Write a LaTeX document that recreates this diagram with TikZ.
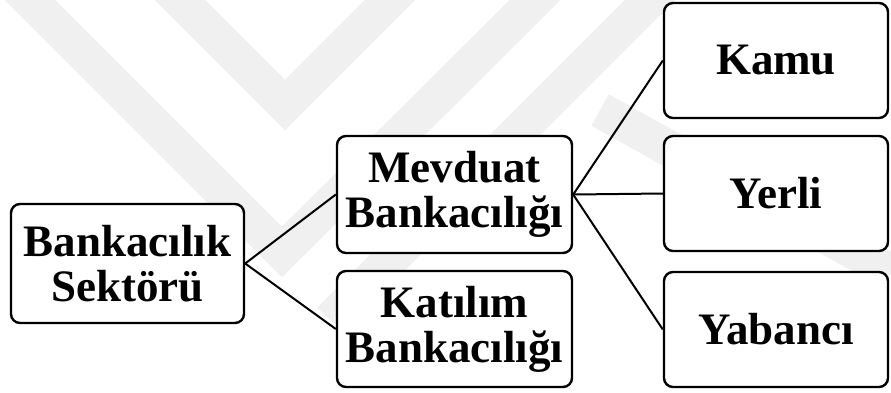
\documentclass[tikz,border=0pt]{standalone}
\usepackage{fontspec}
\setmainfont{Liberation Serif}
\begin{document}
\begin{tikzpicture}[x=1pt,y=-1pt,
  box/.style={draw=black,line width=2.4pt,rounded corners=9pt,fill=white,
    align=center,inner sep=0pt,font=\fontsize{45}{45}\selectfont\bfseries},
  link/.style={draw=black,line width=2pt},
  wm/.style={draw=black!6,line width=36pt,line cap=butt,line join=miter}]
\useasboundingbox (0,0) rectangle (891,392);
% faint watermark
\begin{scope}
\clip (0,0) rectangle (891,322);
\draw[wm] (0,-30) -- (282,252) -- (565,-30);
\draw[wm] (150,-30) -- (285,105) -- (420,-30);
\draw[wm] (680,-30) -- (330,320);
\draw[wm] (600,110) -- (891,272);
\end{scope}
% boxes
\node[box,minimum width=233pt,minimum height=119pt] (bs) at (127.5,263.5) {Bankacılık\\Sektörü};
\node[box,minimum width=235pt,minimum height=117pt] (mb) at (454.5,194.5) {Mevduat\\Bankacılığı};
\node[box,minimum width=235pt,minimum height=116pt] (kb) at (454.5,329) {Katılım\\Bankacılığı};
\node[box,minimum width=224pt,minimum height=115pt] (ka) at (776,60.5) {Kamu};
\node[box,minimum width=224pt,minimum height=115pt] (ye) at (776,193.5) {Yerli};
\node[box,minimum width=224pt,minimum height=115pt] (ya) at (776,329.5) {Yabancı};
% connectors
\draw[link] (bs.east) -- (mb.west);
\draw[link] (bs.east) -- (kb.west);
\draw[link] (mb.east) -- (ka.west);
\draw[link] (mb.east) -- (ye.west);
\draw[link] (mb.east) -- (ya.west);
\end{tikzpicture}
\end{document}
